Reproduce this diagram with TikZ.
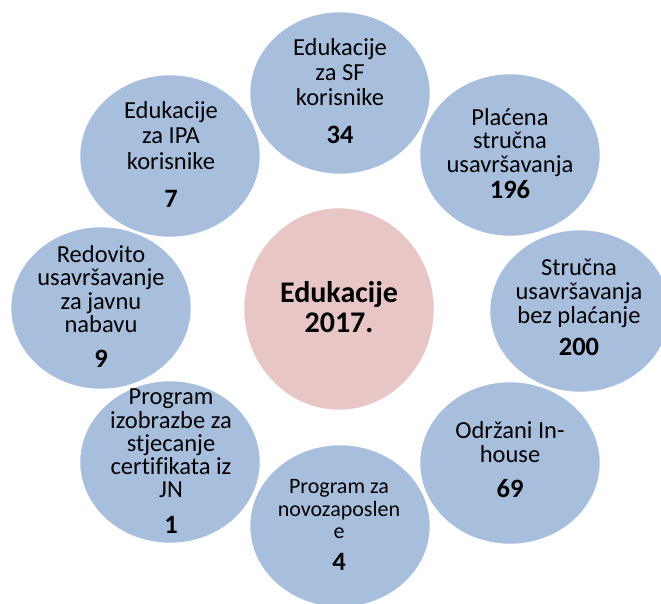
\documentclass[tikz,border=0pt]{standalone}
\usepackage{fontspec}
\setmainfont[Ligatures=CommonOff]{Carlito}
\usetikzlibrary{shapes.geometric}
\definecolor{blobblue}{RGB}{167,191,221}
\definecolor{blobpink}{RGB}{233,198,198}
\tikzset{
  blob/.style={ellipse, fill=blobblue, draw=white, line width=1.5pt, minimum width=181pt, minimum height=163pt, inner sep=0pt},
  hub/.style={ellipse, fill=blobpink, draw=white, line width=1.5pt, minimum width=191pt, minimum height=203pt, inner sep=0pt},
  txt/.style={anchor=base, inner sep=0pt, font=\fontsize{24.5}{29}\selectfont},
  smalltxt/.style={anchor=base, inner sep=0pt, font=\fontsize{22}{26}\selectfont},
  num/.style={anchor=base, inner sep=0pt, font=\fontsize{26.5}{31}\selectfont\bfseries},
  hubtxt/.style={anchor=base, inner sep=0pt, font=\fontsize{30}{35}\selectfont\bfseries}
}
\begin{document}
\begin{tikzpicture}[x=1pt, y=-1pt]
\useasboundingbox (0,0) rectangle (661,603);
\clip (0,0) rectangle (661,603);
\fill[white] (0,0) rectangle (661,603);
% circles
\node[blob] (c1) at (340,93) {};
\node[blob] (c2) at (510,155) {};
\node[blob] (c3) at (580,311) {};
\node[blob] (c4) at (510,463) {};
\node[blob] (c5) at (340,526) {};
\node[blob] (c6) at (170,462) {};
\node[blob] (c7) at (101,308) {};
\node[blob] (c8) at (170,156) {};
\node[hub] (hub) at (339,309) {};
% texts
\node[txt] (t1a) at (340,55) {Edukacije};
\node[txt] (t1b) at (340,80) {za SF};
\node[txt] (t1c) at (340,105) {korisnike};
\node[num] (n1) at (340,143) {34};

\node[txt] (t2a) at (510,125) {Plaćena};
\node[txt] (t2b) at (510,148) {stručna};
\node[txt] (t2c) at (510,172) {usavršavanja};
\node[num] (n2) at (510,198) {196};

\node[txt] (t3a) at (579,275) {Stručna};
\node[txt] (t3b) at (579,299) {usavršavanja};
\node[txt] (t3c) at (579,323) {bez plaćanje};
\node[num] (n3) at (579,355) {200};

\node[txt] (t4a) at (510,438) {Održani In-};
\node[txt] (t4b) at (510,462) {house};
\node[num] (n4) at (510,497) {69};

\node[smalltxt] (t5a) at (339,493) {Program za};
\node[smalltxt] (t5b) at (339,516) {novozaposlen};
\node[smalltxt] (t5c) at (339,538) {e};
\node[num] (n5) at (339,570) {4};

\node[txt] (t6a) at (171,404) {Program};
\node[txt] (t6b) at (171,428) {izobrazbe za};
\node[txt] (t6c) at (171,451) {stjecanje};
\node[txt] (t6d) at (171,474) {certifikata iz};
\node[txt] (t6e) at (171,497) {JN};
\node[num] (n6) at (171,533) {1};

\node[txt] (t7a) at (101,262) {Redovito};
\node[txt] (t7b) at (101,285) {usavršavanje};
\node[txt] (t7c) at (101,309) {za javnu};
\node[txt] (t7d) at (101,332) {nabavu};
\node[num] (n7) at (101,367) {9};

\node[txt] (t8a) at (171,118) {Edukacije};
\node[txt] (t8b) at (171,143) {za IPA};
\node[txt] (t8c) at (171,169) {korisnike};
\node[num] (n8) at (171,207) {7};

\node[hubtxt] (h1) at (339,302) {Edukacije};
\node[hubtxt] (h2) at (339,332) {2017.};
\end{tikzpicture}
\end{document}
